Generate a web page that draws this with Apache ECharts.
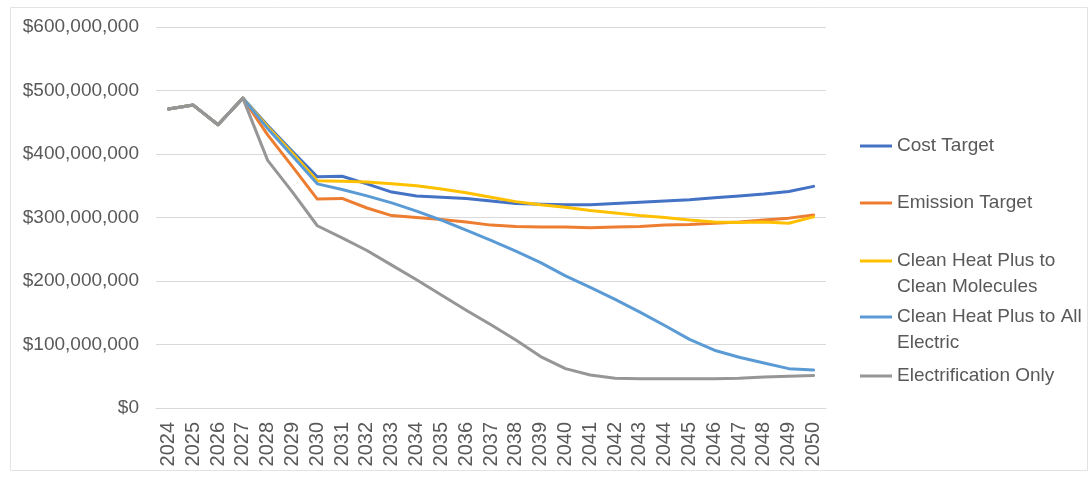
<!DOCTYPE html>
<html>
<head>
<meta charset="utf-8">
<script src="https://cdn.jsdelivr.net/npm/echarts@6/dist/echarts.min.js"></script>
<style>
html,body{margin:0;padding:0;background:#fff;}
#chart{width:1091px;height:480px;}
</style>
</head>
<body>
<div id="chart"></div>
<script>
// Values in millions of dollars
var years = ['2024','2025','2026','2027','2028','2029','2030','2031','2032','2033','2034','2035','2036','2037','2038','2039','2040','2041','2042','2043','2044','2045','2046','2047','2048','2049','2050'];
var yTicks = [0, 100, 200, 300, 400, 500, 600];
var seriesNames = ['Cost Target', 'Emission Target', 'Clean Heat Plus to Clean Molecules', 'Clean Heat Plus to All Electric', 'Electrification Only'];
var legendLabels = ['Cost Target', 'Emission Target', 'Clean Heat Plus to\nClean Molecules', 'Clean Heat Plus to All\nElectric', 'Electrification Only'];

var costTarget = [471,477,446,488,445,404,364,365,353,340,334,332,330,326,322,321,320,320,322,324,326,328,331,334,337,341,349];
var emissionTarget = [471,477,446,488,430,380,329,330,315,303,300,297,293,288,286,285,285,284,285,286,288,289,291,293,296,299,304];
var cleanMolecules = [471,477,446,488,443,401,358,357,356,353,350,345,339,332,325,320,316,311,307,303,300,296,293,292,293,291,301];
var allElectric = [471,477,446,488,440,397,353,344,334,323,310,296,280,264,247,229,208,190,171,151,130,108,91,80,71,62,60];
var electrificationOnly = [471,477,446,488,390,340,287,268,248,225,202,178,154,131,107,81,62,52,47,46,46,46,46,47,49,50,51];

var colors = ['#4472C4', '#ED7D31', '#FFC000', '#5B9BD5', '#969696'];
var seriesData = [costTarget, emissionTarget, cleanMolecules, allElectric, electrificationOnly];

var FONT = '"Liberation Sans", Arial, sans-serif';
var TEXT = '#595959';

var chart = echarts.init(document.getElementById('chart'), null, {renderer: 'canvas'});

var legendTops = [133, 190, 222, 278, 363];
var legends = seriesNames.map(function (name, i) {
  var twoLine = legendLabels[i].indexOf('\n') >= 0;
  var label = twoLine ? ' \n' + legendLabels[i] : legendLabels[i];
  return {
    show: true,
    orient: 'vertical',
    left: 860,
    top: legendTops[i],
    padding: 0,
    icon: 'rect',
    itemWidth: 32,
    itemHeight: 3,
    itemGap: 0,
    selectedMode: false,
    data: [name],
    formatter: function () { return label; },
    textStyle: {
      fontFamily: FONT,
      fontSize: 19,
      color: TEXT,
      lineHeight: 26
    }
  };
});

var option = {
  backgroundColor: '#ffffff',
  animation: false,
  color: colors,
  graphic: [{
    type: 'rect',
    shape: {x: 10.5, y: 7.5, width: 1077, height: 463},
    style: {fill: 'none', stroke: '#e3e3e3', lineWidth: 1},
    silent: true
  }],
  legend: legends,
  grid: {left: 156, right: 265, top: 27, bottom: 72, containLabel: false},
  xAxis: {
    type: 'category',
    data: years,
    boundaryGap: true,
    axisLine: {show: true, lineStyle: {color: '#d9d9d9', width: 1}},
    axisTick: {show: false},
    axisLabel: {
      rotate: 90,
      margin: 14,
      interval: 0,
      fontFamily: FONT,
      fontSize: 20,
      color: TEXT
    },
    splitLine: {show: false}
  },
  yAxis: {
    type: 'value',
    min: yTicks[0],
    max: yTicks[yTicks.length - 1],
    interval: 100,
    axisLine: {show: false},
    axisTick: {show: false},
    axisLabel: {
      margin: 17,
      fontFamily: FONT,
      fontSize: 19,
      color: TEXT,
      formatter: function (v) { return '$' + (v * 1000000).toLocaleString('en-US'); }
    },
    splitLine: {show: true, lineStyle: {color: '#d9d9d9', width: 1}}
  },
  series: seriesNames.map(function (name, i) {
    return {
      name: name,
      type: 'line',
      data: seriesData[i],
      symbol: 'none',
      showSymbol: false,
      smooth: false,
      lineStyle: {width: 3, color: colors[i], cap: 'round', join: 'round'},
      itemStyle: {color: colors[i]}
    };
  })
};

chart.setOption(option);
</script>
</body>
</html>
